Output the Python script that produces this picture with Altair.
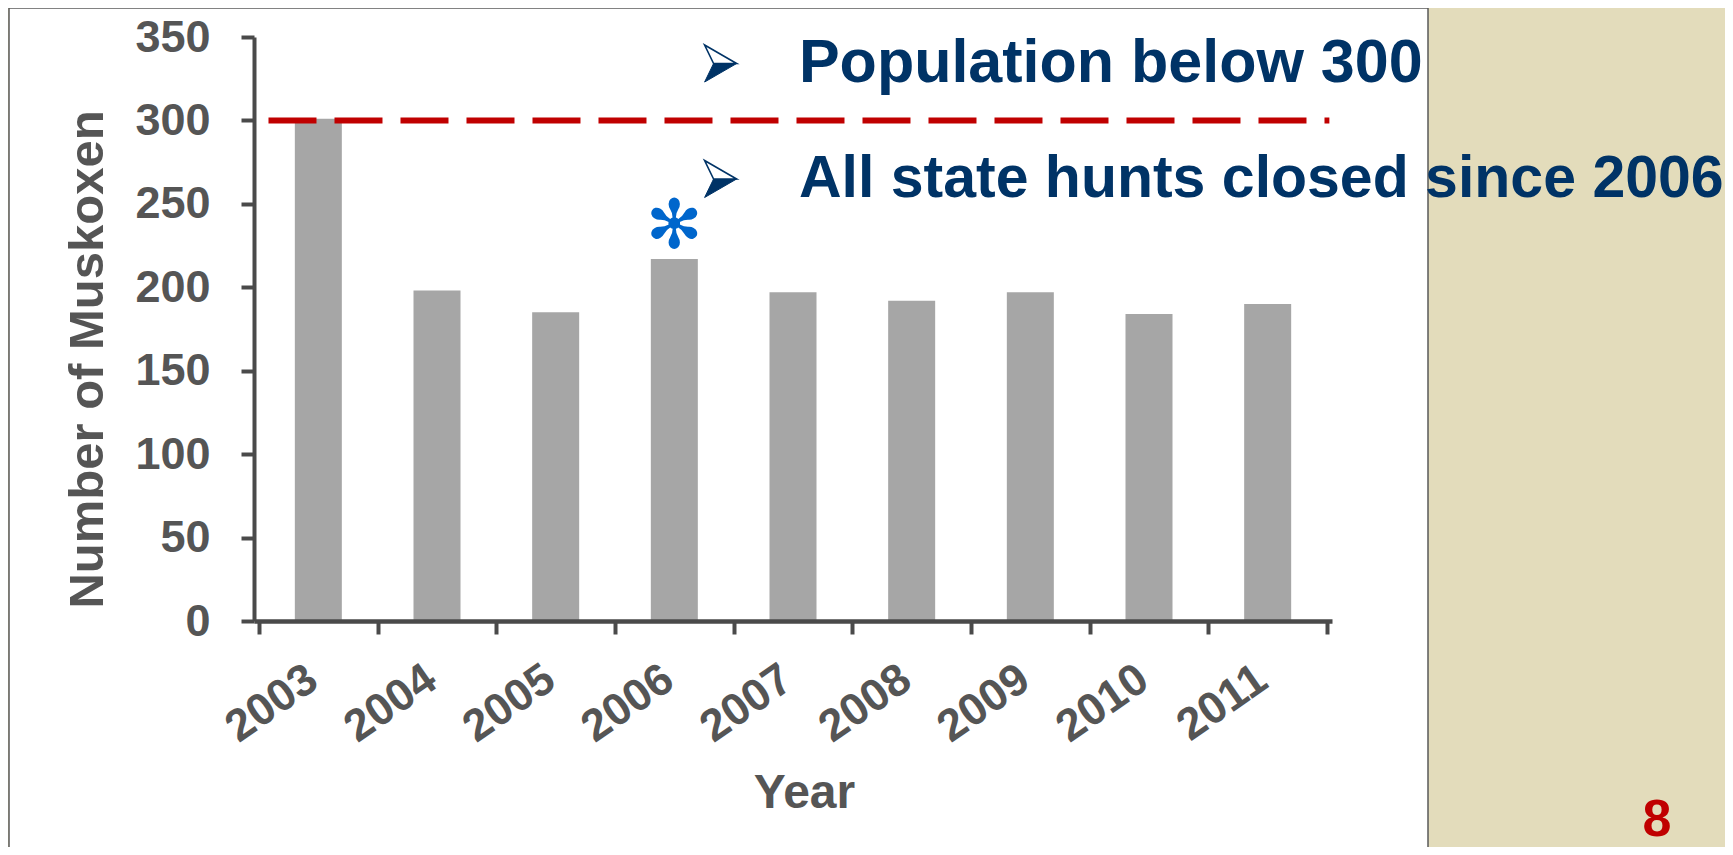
import altair as alt
import pandas as pd

# ---- data ----
years = [2003, 2004, 2005, 2006, 2007, 2008, 2009, 2010, 2011]
muskoxen = [301, 198, 185, 217, 197, 192, 197, 184, 190]

threshold_value = [300]
threshold_start = [2002.58]
threshold_end = [2011.52]

star_year = [2006]
star_value = [217]

bullet1_text = ["Population below 300"]
bullet2_text = ["All state hunts closed since 2006"]
bullet_x = [2007.05]
bullet1_y = [323.0]
bullet2_y = [254.1]
arrow_x = [2006.39, 2006.39]
arrow_y = [334.1, 264.9]

page_number = ["8"]
page_x = [2014.28]
page_y = [-129.0]

tick_values = [2002.5 + 0.5 * i for i in range(19)]
y_ticks = [0, 50, 100, 150, 200, 250, 300, 350]

W, H = 1078, 584
AX = "#4a4a4a"
LBL = "#555555"
NAVY = "#003366"
FONT = "Liberation Sans"

bars_df = pd.DataFrame({"year": years, "count": muskoxen})
thr_df = pd.DataFrame({"x": threshold_start, "x2": threshold_end, "y": threshold_value})
star_df = pd.DataFrame({"year": star_year, "count": star_value, "t": ["✻"]})
b1_df = pd.DataFrame({"x": bullet_x, "y": bullet1_y, "t": bullet1_text})
b2_df = pd.DataFrame({"x": bullet_x, "y": bullet2_y, "t": bullet2_text})
arr_df = pd.DataFrame({"x": arrow_x, "y": arrow_y})
pg_df = pd.DataFrame({"x": page_x, "y": page_y, "t": page_number})

xscale = alt.Scale(domain=[2002.5, 2011.5], nice=False, zero=False)
yscale = alt.Scale(domain=[0, 350], nice=False)

panel = alt.Chart(pd.DataFrame({"a": [0]})).mark_rect(
    fill="white", stroke="#5a5a5a", strokeWidth=1.5
).encode(
    x=alt.value(-245), x2=alt.value(1174), y=alt.value(-29), y2=alt.value(840)
)

bars = alt.Chart(bars_df).mark_bar(size=47, color="#a6a6a6").encode(
    x=alt.X(
        "year:Q",
        scale=xscale,
        axis=alt.Axis(
            values=tick_values,
            labelExpr="datum.value % 1 === 0 ? format(datum.value, 'd') : ''",
            tickOpacity={"condition": {"test": "datum.value % 1 === 0", "value": 0}, "value": 1},
            labelAngle=-35,
            labelAlign="right",
            labelBaseline="middle",
            labelPadding=40,
            labelOffset=-6,
            labelOverlap=False,
            labelFlush=False,
            labelBound=False,
            labelFont=FONT,
            labelFontWeight="bold",
            labelFontSize=45,
            labelColor=LBL,
            tickSize=13,
            tickWidth=4,
            tickColor=AX,
            domainColor=AX,
            domainWidth=4.5,
            grid=False,
            zindex=1,
            title="Year",
            titleFont=FONT,
            titleFontWeight="bold",
            titleFontSize=48,
            titleColor=LBL,
            titleX=550,
            titleY=186,
            titleBaseline="alphabetic",
            titleAlign="center",
        ),
    ),
    y=alt.Y(
        "count:Q",
        scale=yscale,
        axis=alt.Axis(
            values=y_ticks,
            labelFont=FONT,
            labelFontWeight="bold",
            labelFontSize=45,
            labelColor=LBL,
            labelPadding=31,
            tickSize=13,
            tickWidth=4,
            tickColor=AX,
            domainColor=AX,
            domainWidth=4,
            grid=False,
            zindex=1,
            title="Number of Muskoxen",
            titleFont=FONT,
            titleFontWeight="bold",
            titleFontSize=49,
            titleColor=LBL,
            titleX=-152,
            titleY=322,
            titleAngle=-90,
            titleBaseline="alphabetic",
            titleAlign="center",
        ),
    ),
)

rule = alt.Chart(thr_df).mark_rule(
    color="#c00000", strokeWidth=6, strokeDash=[48, 18], strokeCap="butt"
).encode(
    x=alt.X("x:Q", scale=xscale), x2="x2:Q", y=alt.Y("y:Q", scale=yscale)
)

star = alt.Chart(star_df).mark_text(
    font="DejaVu Sans", fontSize=68, color="#0066cc", baseline="middle", dy=-31
).encode(x=alt.X("year:Q", scale=xscale), y=alt.Y("count:Q", scale=yscale), text="t:N")

arrow_lower = alt.Chart(arr_df).mark_point(
    shape="M-0.38,0 L0.865,0 L-0.865,1 Z", size=1369, filled=True,
    fill=NAVY, stroke=NAVY, strokeWidth=1, opacity=1
).encode(x=alt.X("x:Q", scale=xscale), y=alt.Y("y:Q", scale=yscale))

arrow_upper = alt.Chart(arr_df).mark_point(
    shape="M-0.865,-1 L0.865,0 L-0.38,0 Z", size=1369, filled=False,
    fill="white", stroke=NAVY, strokeWidth=1.6, opacity=1, fillOpacity=1
).encode(x=alt.X("x:Q", scale=xscale), y=alt.Y("y:Q", scale=yscale))

bullet1 = alt.Chart(b1_df).mark_text(
    font=FONT, fontSize=61, fontWeight="bold", color=NAVY, baseline="alphabetic", align="left"
).encode(x=alt.X("x:Q", scale=xscale), y=alt.Y("y:Q", scale=yscale), text="t:N")

bullet2 = alt.Chart(b2_df).mark_text(
    font=FONT, fontSize=59, fontWeight="bold", color=NAVY, baseline="alphabetic", align="left"
).encode(x=alt.X("x:Q", scale=xscale), y=alt.Y("y:Q", scale=yscale), text="t:N")

page = alt.Chart(pg_df).mark_text(
    font=FONT, fontSize=52, fontWeight="bold", color="#c00000", baseline="alphabetic", align="center"
).encode(x=alt.X("x:Q", scale=xscale), y=alt.Y("y:Q", scale=yscale), text="t:N")

chart = alt.layer(panel, bars, rule, star, arrow_lower, arrow_upper, bullet1, bullet2, page).properties(
    width=W,
    height=H,
    autosize=alt.AutoSizeParams(type="none"),
    padding={"left": 246, "top": 29, "right": 393, "bottom": 226},
    background="#e3dcbb",
).configure_view(strokeWidth=0)

chart.save("out.html", embed_options={"renderer": "svg", "actions": False})
